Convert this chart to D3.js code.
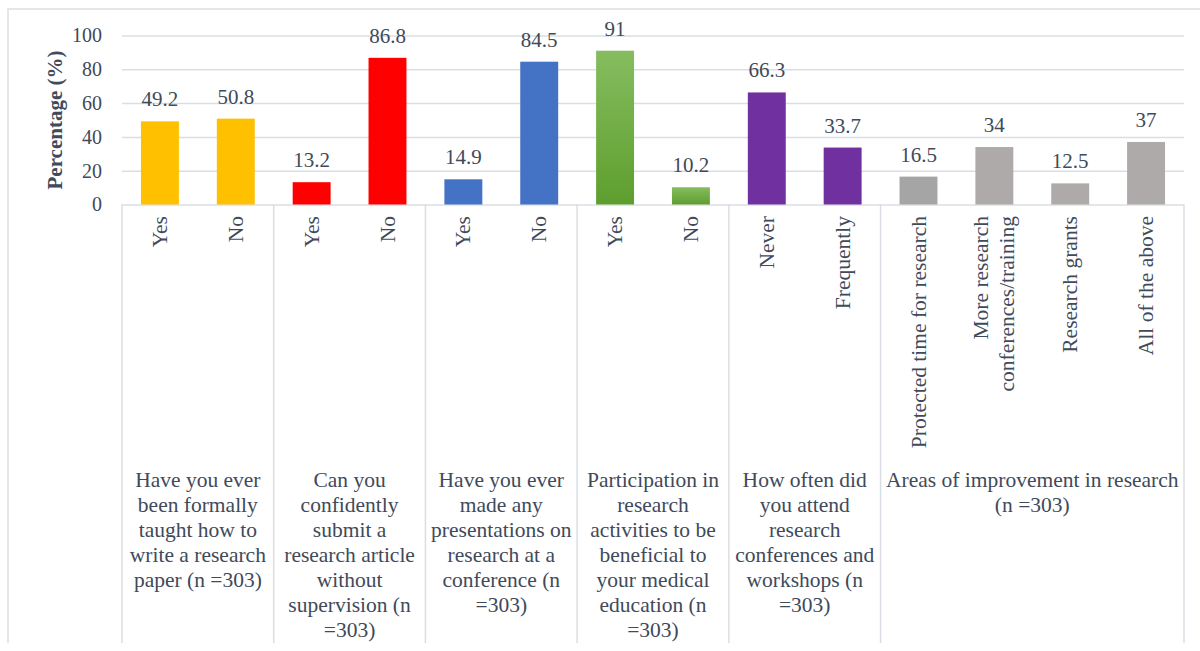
<!DOCTYPE html>
<html>
<head>
<meta charset="utf-8">
<script src="https://cdn.jsdelivr.net/npm/d3@7"></script>
<style>
  body { margin: 0; background: #fff; }
  svg text { font-family: "Liberation Serif", Tinos, "Times New Roman", Times, "DejaVu Serif", serif; fill: #404a5a; }
</style>
</head>
<body>
<svg id="chart" width="1200" height="651"></svg>
<script>
// bar labels (a "|" splits a label over two lines)
const categories = ['Yes', 'No', 'Yes', 'No', 'Yes', 'No', 'Yes', 'No', 'Never', 'Frequently',
  'Protected time for research', 'More research|conferences/training', 'Research grants', 'All of the above']
const values = [49.2, 50.8, 13.2, 86.8, 14.9, 84.5, 91, 10.2, 66.3, 33.7, 16.5, 34, 12.5, 37]
const barColors = ['#ffc000', '#ffc000', '#ff0000', '#ff0000', '#4472c4', '#4472c4', 'green', 'green',
  '#7030a0', '#7030a0', '#a5a5a5', '#aeaaaa', '#aeaaaa', '#aeaaaa']

// questions, and how many bars each one covers
const groupSizes = [2, 2, 2, 2, 2, 4]
const groupLabels = [
  ['Have you ever', 'been formally', 'taught how to', 'write a research', 'paper (n =303)'],
  ['Can you', 'confidently', 'submit a', 'research article', 'without', 'supervision (n', '=303)'],
  ['Have you ever', 'made any', 'presentations on', 'research at a', 'conference (n', '=303)'],
  ['Participation in', 'research', 'activities to be', 'beneficial to', 'your medical', 'education (n', '=303)'],
  ['How often did', 'you attend', 'research', 'conferences and', 'workshops (n', '=303)'],
  ['Areas of improvement in research', '(n =303)']
]
const yTicks = [0, 20, 40, 60, 80, 100]

const plotLeft = 122
const plotRight = 1184
const plotTop = 35.5
const plotBottom = 204.5
const chartBottom = 643
const gridColor = '#dadee4'

const svg = d3.select('#chart')

const defs = svg.append('defs')
const grad = defs.append('linearGradient')
  .attr('id', 'greenGrad')
  .attr('x1', 0).attr('y1', 0).attr('x2', 0).attr('y2', 1)
grad.append('stop').attr('offset', '0%').attr('stop-color', '#86bd5f')
grad.append('stop').attr('offset', '100%').attr('stop-color', '#5e9e2e')

const xScale = d3.scaleBand()
  .domain(d3.range(values.length))
  .range([plotLeft, plotRight])
  .paddingInner(0.5)
  .paddingOuter(0.25)

const step = xScale.step()

const yScale = d3.scaleLinear()
  .domain([0, 100])
  .range([plotBottom, plotTop])

// chart frame (the picture cuts off its right and bottom edges)
svg.append('path')
  .attr('d', `M8,${chartBottom} V9 H1200`)
  .attr('fill', 'none')
  .attr('stroke', gridColor)
  .attr('stroke-width', 1.5)

// y axis with gridlines
const leftAxis = d3.axisLeft(yScale)
  .tickValues(yTicks)
  .tickSize(-(plotRight - plotLeft))
  .tickPadding(20)

const yAxis = svg.append('g')
  .attr('transform', `translate(${plotLeft}, 0)`)
  .call(leftAxis)

yAxis.select('.domain').remove()
yAxis.selectAll('.tick line')
  .attr('stroke', gridColor)
  .attr('stroke-width', 1.5)
yAxis.selectAll('.tick text')
  .attr('font-size', 20)
  .attr('fill', '#404a5a')

svg.append('text')
  .text('Percentage (%)')
  .attr('transform', `translate(62, 120) rotate(-90)`)
  .attr('text-anchor', 'middle')
  .attr('font-size', 21)
  .attr('font-weight', 'bold')

// group separators
const bounds = [0]
groupSizes.forEach(n => bounds.push(bounds[bounds.length - 1] + n))

svg.append('g')
  .selectAll('line')
  .data(bounds)
  .enter()
  .append('line')
  .attr('x1', d => plotLeft + d * step)
  .attr('x2', d => plotLeft + d * step)
  .attr('y1', plotBottom)
  .attr('y2', chartBottom)
  .attr('stroke', gridColor)
  .attr('stroke-width', 1.5)

// bars
svg.append('g')
  .selectAll('rect')
  .data(values)
  .enter()
  .append('rect')
  .attr('x', (d, i) => xScale(i))
  .attr('y', d => yScale(d))
  .attr('width', xScale.bandwidth())
  .attr('height', d => yScale(0) - yScale(d))
  .attr('fill', (d, i) => barColors[i] === 'green' ? 'url(#greenGrad)' : barColors[i])

// value labels
svg.append('g')
  .selectAll('text')
  .data(values)
  .enter()
  .append('text')
  .text(d => d)
  .attr('x', (d, i) => xScale(i) + xScale.bandwidth() / 2)
  .attr('y', d => yScale(d) - 15)
  .attr('text-anchor', 'middle')
  .attr('font-size', 21)

// rotated bar labels
const catLabels = svg.append('g')
  .selectAll('text')
  .data(categories)
  .enter()
  .append('text')
  .attr('transform', (d, i) => `translate(${xScale(i) + xScale.bandwidth() / 2}, 216) rotate(-90)`)
  .attr('text-anchor', 'end')
  .attr('font-size', 21.5)

catLabels.each(function (d) {
  const lines = d.split('|')
  const offset = (lines.length - 1) / 2
  d3.select(this).selectAll('tspan')
    .data(lines)
    .enter()
    .append('tspan')
    .attr('x', 0)
    .attr('y', (l, j) => (j - offset) * 26 + 7)
    .text(l => l)
})

// question labels under each group
groupLabels.forEach((lines, g) => {
  const cx = plotLeft + (bounds[g] + groupSizes[g] / 2) * step
  svg.append('text')
    .attr('text-anchor', 'middle')
    .attr('font-size', 21.5)
    .selectAll('tspan')
    .data(lines)
    .enter()
    .append('tspan')
    .attr('x', cx)
    .attr('y', (l, j) => 487 + j * 25)
    .text(l => l)
})
</script>
</body>
</html>
